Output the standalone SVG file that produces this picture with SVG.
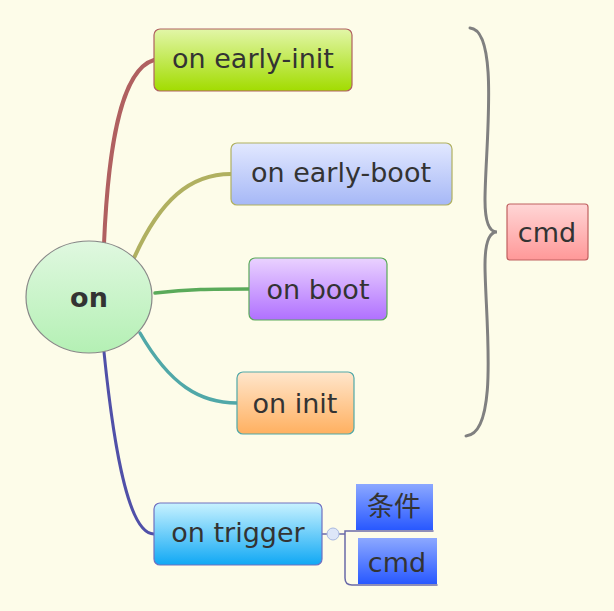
<svg xmlns="http://www.w3.org/2000/svg" width="614" height="611" viewBox="0 0 614 611">
<style>
text{font-family:"DejaVu Sans","Noto Sans CJK SC",sans-serif;fill:#333;font-size:27px}
.n{stroke-width:1.2}
.c{fill:none;stroke-linecap:round}
</style>
<defs>
<linearGradient id="g1" x1="0" y1="0" x2="0" y2="1"><stop offset="0" stop-color="#e2f6a8"/><stop offset="1" stop-color="#a2dc00"/></linearGradient>
<linearGradient id="g2" x1="0" y1="0" x2="0" y2="1"><stop offset="0" stop-color="#e2e8ff"/><stop offset="1" stop-color="#a6b8f6"/></linearGradient>
<linearGradient id="g3" x1="0" y1="0" x2="0" y2="1"><stop offset="0" stop-color="#ead2ff"/><stop offset="1" stop-color="#b070ff"/></linearGradient>
<linearGradient id="g4" x1="0" y1="0" x2="0" y2="1"><stop offset="0" stop-color="#ffe6cc"/><stop offset="1" stop-color="#ffb060"/></linearGradient>
<linearGradient id="g5" x1="0" y1="0" x2="0" y2="1"><stop offset="0" stop-color="#c8f2ff"/><stop offset="1" stop-color="#10a8f4"/></linearGradient>
<linearGradient id="g6" x1="0" y1="0" x2="0" y2="1"><stop offset="0" stop-color="#ffd6d6"/><stop offset="1" stop-color="#ff9898"/></linearGradient>
<linearGradient id="g7" x1="0" y1="0" x2="0" y2="1"><stop offset="0" stop-color="#8ca8ff"/><stop offset="1" stop-color="#2858ff"/></linearGradient>
<linearGradient id="g0" x1="0" y1="0" x2="0" y2="1"><stop offset="0" stop-color="#e0f8e0"/><stop offset="1" stop-color="#b4f0b4"/></linearGradient>
</defs>
<rect width="614" height="611" fill="#fdfce9"/>
<g id="connectors">
<path class="c" d="M104,244 C108,150 120,70 154,60" stroke="#b06060" stroke-width="4"/>
<path class="c" d="M134,258 C160,200 190,174 231,174" stroke="#b0b060" stroke-width="4"/>
<path class="c" d="M155,293 C190,289 210,289 249,289" stroke="#5aaa5a" stroke-width="3.5"/>
<path class="c" d="M140,333 C170,385 200,403 237,403" stroke="#50a8a8" stroke-width="3.5"/>
<path class="c" d="M104,352 C115,460 130,534 154,534" stroke="#5050a8" stroke-width="3"/>
<path class="c" d="M470,28 C500,30 485,150 485,200 C485,225 490,232 497,232 C490,232 485,240 485,265 C485,315 500,434 466,436" stroke="#808080" stroke-width="3"/>
<path class="c" d="M322,534 L345,534 L345,531 L433,531 M345,534 L345,578 Q345,585 352,585 L437,585" stroke="#6a6aa8" stroke-width="1.5"/>
<circle cx="333" cy="534" r="6" fill="#dde6f8" stroke="#a8b8e0"/>
</g>
<g id="on"><ellipse cx="89" cy="297" rx="63" ry="56" fill="url(#g0)" stroke="#888" class="n"/><text x="89" y="307" text-anchor="middle" font-weight="bold" font-size="30">on</text></g>
<g id="early-init"><rect x="154" y="29" width="198" height="62" rx="6" fill="url(#g1)" stroke="#b06060" class="n"/><text x="253" y="68" text-anchor="middle">on early-init</text></g>
<g id="early-boot"><rect x="231" y="143" width="221" height="62" rx="6" fill="url(#g2)" stroke="#b0b060" class="n"/><text x="341" y="182" text-anchor="middle">on early-boot</text></g>
<g id="boot"><rect x="249" y="258" width="138" height="62" rx="6" fill="url(#g3)" stroke="#5aaa5a" class="n"/><text x="318" y="299" text-anchor="middle">on boot</text></g>
<g id="init"><rect x="237" y="372" width="117" height="62" rx="6" fill="url(#g4)" stroke="#50a8a8" class="n"/><text x="295" y="413" text-anchor="middle">on init</text></g>
<g id="trigger"><rect x="154" y="503" width="168" height="62" rx="6" fill="url(#g5)" stroke="#7070c0" class="n"/><text x="238" y="542" text-anchor="middle">on trigger</text></g>
<g id="cmd1"><rect x="507" y="204" width="81" height="56" rx="3" fill="url(#g6)" stroke="#c06060" class="n"/><text x="547" y="242" text-anchor="middle">cmd</text></g>
<g id="cond"><rect x="356" y="484" width="77" height="46" fill="url(#g7)"/><text x="394" y="516" text-anchor="middle" font-family="Noto Sans CJK SC,sans-serif">条件</text></g>
<g id="cmd2"><rect x="358" y="538" width="79" height="46" fill="url(#g7)"/><text x="397" y="572" text-anchor="middle">cmd</text></g>
</svg>
